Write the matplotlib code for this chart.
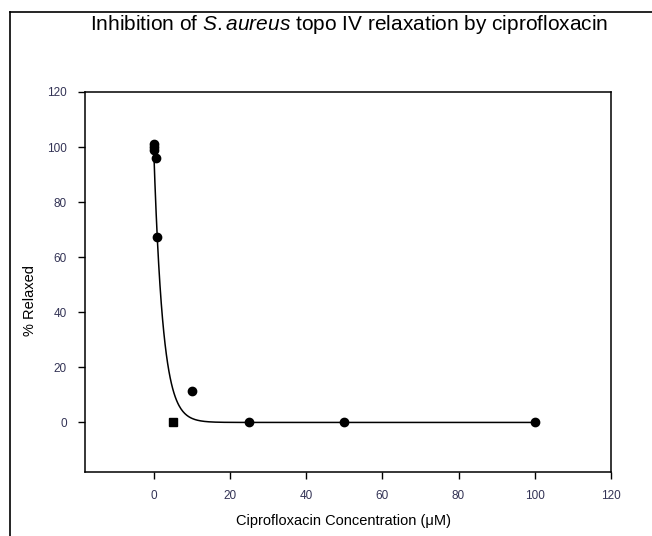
import numpy as np
import matplotlib
matplotlib.use("Agg")
import matplotlib.pyplot as plt
from matplotlib.lines import Line2D

plt.rcParams["font.family"] = ["Liberation Sans", "DejaVu Sans"]
plt.rcParams["mathtext.fontset"] = "custom"
plt.rcParams["mathtext.it"] = "Liberation Sans:italic"
plt.rcParams["mathtext.rm"] = "Liberation Sans"

# measured points (circles)
conc = [0, 0, 0, 0.5, 1, 10, 25, 50, 100]
relaxed = [101, 100, 99, 96, 67.5, 11.5, 0, 0, 0]
# the one square marker
sq_conc = [5]
sq_relaxed = [0]

# single exponential decay fit: y = A * exp(-k x)
A_FIT = 100.5
K_FIT = 0.42
xticks = [0, 20, 40, 60, 80, 100, 120]
yticks = [0, 20, 40, 60, 80, 100, 120]

fig = plt.figure(figsize=(6.52, 5.36), dpi=100)
ax = fig.add_axes([85 / 652, 1 - 472 / 536, (611 - 85) / 652, (472 - 92) / 536])

xf = np.linspace(0, 100, 600)
ax.plot(xf, A_FIT * np.exp(-K_FIT * xf), color="black", lw=1.1)
ax.plot(conc, relaxed, "o", color="black", ms=6)
ax.plot(sq_conc, sq_relaxed, "s", color="black", ms=5.5)

ax.set_xlim(-18, 120)
ax.set_ylim(-18, 120)
ax.set_xticks(xticks)
ax.set_yticks(yticks)
ax.tick_params(direction="out", length=5, width=1, labelsize=8.5,
               labelcolor="#333355", pad=8)
for s in ax.spines.values():
    s.set_linewidth(1.1)

fig.text(343 / 652, 1 - 521 / 536, "Ciprofloxacin Concentration (\u03bcM)",
         ha="center", va="center", fontsize=10.5)
fig.text(30 / 652, 1 - 300 / 536, "% Relaxed", rotation=90,
         ha="center", va="center", fontsize=10.5)
fig.text(349 / 652, 1 - 25 / 536,
         "Inhibition of $S.aureus$ topo IV relaxation by ciprofloxacin",
         ha="center", va="center", fontsize=15)

# outer frame: only left and top edges are visible
fig.add_artist(Line2D([10 / 652, 10 / 652], [0, 1 - 12 / 536],
                      transform=fig.transFigure, color="black", lw=1.2))
fig.add_artist(Line2D([10 / 652, 1], [1 - 12 / 536, 1 - 12 / 536],
                      transform=fig.transFigure, color="black", lw=1.2))

fig.savefig("out.png", dpi=100)
